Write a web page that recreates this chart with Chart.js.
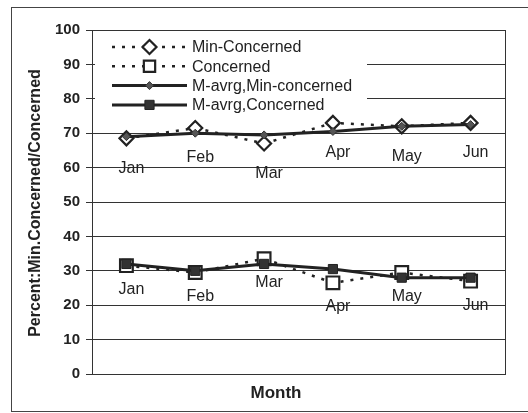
<!DOCTYPE html>
<html>
<head>
<meta charset="utf-8">
<script src="https://cdn.jsdelivr.net/npm/chart.js@4.4.1/dist/chart.umd.min.js"></script>
<style>
  html, body { margin: 0; padding: 0; background: #fff; }
  #c { display: block; }
</style>
</head>
<body>
<canvas id="c" width="528" height="413"></canvas>
<script>
// Monthly share of respondents (percent)
const months = ['Jan', 'Feb', 'Mar', 'Apr', 'May', 'Jun'];
const minConcerned = [68.5, 71.5, 67, 73, 72, 73];
const concerned = [31.5, 29.5, 33.5, 26.5, 29.5, 27];
const avgMinConcerned = [69, 70, 69.5, 70.5, 72, 72.5];
const avgConcerned = [32, 30, 32, 30.5, 28, 28];
const seriesNames = ['Min-Concerned', 'Concerned', 'M-avrg,Min-concerned', 'M-avrg,Concerned'];
const yMin = 0, yMax = 100, yStep = 10;

const INK = '#222';
const FONT = '"Liberation Sans", Arial, sans-serif';

const dashed = [3, 7];

const datasets = [
  {
    label: seriesNames[0], data: minConcerned, order: 1,
    borderColor: INK, borderWidth: 2.5, borderDash: dashed,
    pointStyle: 'rectRot', pointRadius: 7, pointBorderWidth: 2.2,
    pointBorderColor: INK, pointBackgroundColor: '#fff'
  },
  {
    label: seriesNames[1], data: concerned, order: 1,
    borderColor: INK, borderWidth: 2.5, borderDash: dashed,
    pointStyle: 'rect', pointRadius: 9, pointBorderWidth: 2.2,
    pointBorderColor: INK, pointBackgroundColor: '#fff'
  },
  {
    label: seriesNames[2], data: avgMinConcerned, order: 0,
    borderColor: INK, borderWidth: 3,
    pointStyle: 'rectRot', pointRadius: 4, pointBorderWidth: 1,
    pointBorderColor: '#333', pointBackgroundColor: '#555'
  },
  {
    label: seriesNames[3], data: avgConcerned, order: 0,
    borderColor: INK, borderWidth: 3,
    pointStyle: 'rect', pointRadius: 6.5, pointBorderWidth: 1,
    pointBorderColor: '#222', pointBackgroundColor: '#333'
  }
];

// Marker used both in the legend box
function marker(ctx, style, x, y, r, fill, stroke, lw) {
  ctx.save();
  ctx.beginPath();
  if (style === 'rectRot') {
    ctx.moveTo(x, y - r); ctx.lineTo(x + r, y); ctx.lineTo(x, y + r); ctx.lineTo(x - r, y);
    ctx.closePath();
  } else {
    const s = Math.SQRT1_2 * r;
    ctx.rect(x - s, y - s, 2 * s, 2 * s);
  }
  ctx.fillStyle = fill; ctx.fill();
  ctx.lineWidth = lw; ctx.strokeStyle = stroke; ctx.setLineDash([]); ctx.stroke();
  ctx.restore();
}

// White legend panel in the upper left of the plot
const legendBox = {
  id: 'legendBox',
  beforeDatasetsDraw(chart) {
    const ctx = chart.ctx, a = chart.chartArea;
    const left = a.left + 3, top = a.top + 4, w = 272, rowH = 19.3;
    ctx.save();
    ctx.fillStyle = '#fff';
    ctx.fillRect(left, top, w, rowH * 4 + 4);
    chart.data.datasets.forEach((ds, i) => {
      const y = top + 13 + i * rowH;
      const x0 = left + 17, x1 = left + 92, xm = (x0 + x1) / 2;
      ctx.beginPath();
      ctx.strokeStyle = ds.borderColor;
      ctx.lineWidth = ds.borderWidth;
      ctx.setLineDash(ds.borderDash || []);
      ctx.moveTo(x0, y); ctx.lineTo(x1, y);
      ctx.stroke();
      ctx.setLineDash([]);
      marker(ctx, ds.pointStyle, xm, y,
        ds.pointStyle === 'rect' && ds.pointRadius > 8 ? 8 : ds.pointRadius,
        ds.pointBackgroundColor, ds.pointBorderColor, ds.pointBorderWidth);
      ctx.fillStyle = INK;
      ctx.font = '16px ' + FONT;
      ctx.textAlign = 'left';
      ctx.textBaseline = 'middle';
      ctx.fillText(ds.label, x1 + 5, y + 1);
    });
    ctx.restore();
  }
};

// Month names written below the points of the two raw series
const monthLabels = {
  id: 'monthLabels',
  afterDatasetsDraw(chart) {
    const ctx = chart.ctx;
    const below = [30, 24];
    ctx.save();
    ctx.fillStyle = INK;
    ctx.font = '16px ' + FONT;
    ctx.textAlign = 'center';
    ctx.textBaseline = 'middle';
    [0, 1].forEach(di => {
      chart.getDatasetMeta(di).data.forEach((pt, j) => {
        ctx.fillText(months[j], pt.x + 5, pt.y + below[di]);
      });
    });
    ctx.restore();
  }
};

// Plot frame, axis titles and outer border
const frame = {
  id: 'frame',
  afterDraw(chart) {
    const ctx = chart.ctx, a = chart.chartArea;
    ctx.save();
    ctx.strokeStyle = '#333';
    ctx.lineWidth = 1;
    ctx.strokeRect(Math.round(a.left) + 0.5, Math.round(a.top) + 0.5,
      Math.round(a.right - a.left), Math.round(a.bottom - a.top));
    ctx.strokeStyle = '#444';
    ctx.strokeRect(11.5, 7.5, 540, 404);
    ctx.fillStyle = INK;
    ctx.font = 'bold 17px ' + FONT;
    ctx.textAlign = 'center';
    ctx.textBaseline = 'middle';
    ctx.fillText('Month', 276, 393);
    ctx.translate(36, 203);
    ctx.rotate(-Math.PI / 2);
    ctx.font = 'bold 16px ' + FONT;
    ctx.fillText('Percent:Min.Concerned/Concerned', 0, 0);
    ctx.restore();
  }
};

new Chart(document.getElementById('c'), {
  type: 'line',
  data: { labels: months, datasets },
  options: {
    responsive: false,
    animation: false,
    events: [],
    layout: { padding: { left: 10, top: 30, right: 23, bottom: 0 } },
    plugins: { legend: { display: false }, tooltip: { enabled: false } },
    elements: { line: { tension: 0 } },
    scales: {
      x: {
        offset: true,
        grid: { display: false },
        border: { display: true, color: '#333', width: 1 },
        ticks: { display: false },
        afterFit(s) { s.height = 39; }
      },
      y: {
        min: yMin, max: yMax,
        grid: { color: '#333', lineWidth: 1, tickLength: 6, drawTicks: true },
        border: { display: true, color: '#333', width: 1 },
        ticks: {
          stepSize: yStep, padding: 6, color: INK,
          font: { family: FONT, size: 15, weight: 'bold' }
        },
        afterFit(s) { s.width = 82; }
      }
    }
  },
  plugins: [legendBox, monthLabels, frame]
});
</script>
</body>
</html>
